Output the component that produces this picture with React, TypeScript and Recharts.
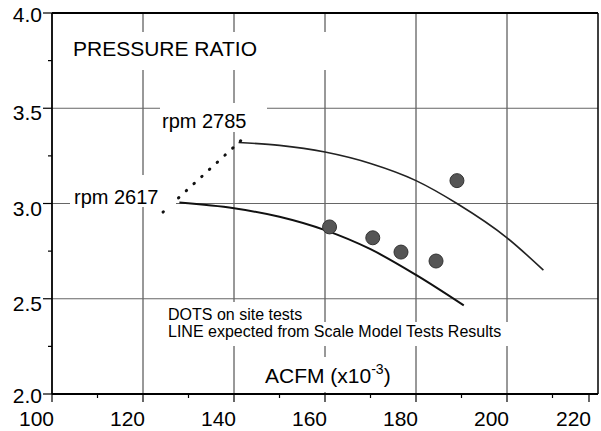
import React from 'react'
import {
  ComposedChart,
  Line,
  Scatter,
  XAxis,
  YAxis,
  ReferenceLine,
} from 'recharts'

// expected curves from scale model tests, one per speed
const upperAcfm = [141, 150, 160, 170, 180, 189, 200, 208]
const upperRatio = [3.32, 3.305, 3.27, 3.21, 3.12, 3.0, 2.82, 2.65]
const lowerAcfm = [128, 140, 150, 160, 170, 180, 190.5]
const lowerRatio = [3.005, 2.975, 2.93, 2.86, 2.76, 2.625, 2.465]

// dotted leader between the two speed labels
const leaderAcfm = [124.4, 143.1]
const leaderRatio = [2.955, 3.365]

// on site test points
const siteAcfm = [161, 170.5, 176.7, 184.4, 189]
const siteRatio = [2.877, 2.82, 2.745, 2.698, 3.12]

const xTicks = [100, 110, 120, 130, 140, 150, 160, 170, 180, 190, 200, 210, 220]
const yTicks = [2.0, 2.25, 2.5, 2.75, 3.0, 3.25, 3.5, 3.75, 4.0]
const xGrid = [120, 140, 160, 180, 200]
const yGrid = [2.5, 3.0, 3.5]

const zip = (xs: number[], ys: number[]) => xs.map((acfm, i) => ({ acfm, ratio: ys[i] }))

const upper = zip(upperAcfm, upperRatio)
const lower = zip(lowerAcfm, lowerRatio)
const leader = zip(leaderAcfm, leaderRatio)
const site = zip(siteAcfm, siteRatio)

const FONT = '"Liberation Sans", Arial, Helvetica, sans-serif'

const XTick = ({ x, y, payload }: any) => {
  const major = payload.value % 20 === 0
  return (
    <g>
      <line x1={x} x2={x} y1={y} y2={y + (major ? 8 : 4)} stroke="#000" strokeWidth={1.2} />
      {major && (
        <text x={x + 2} y={y + 32} textAnchor="end" fontSize={21} fontFamily={FONT} fill="#000">
          {payload.value}
        </text>
      )}
    </g>
  )
}

const YTick = ({ x, y, payload }: any) => {
  const major = Math.abs((payload.value * 2) % 1) < 1e-6
  const top = payload.value === 4
  const bottom = payload.value === 2
  return (
    <g>
      <line x1={x - (major ? 9 : 4)} x2={x} y1={y} y2={y} stroke="#000" strokeWidth={1.2} />
      {major && (
        <text
          x={x - 10}
          y={y + (top ? 9 : bottom ? 9 : 12)}
          textAnchor="end"
          fontSize={21}
          fontFamily={FONT}
          fill="#000"
        >
          {payload.value.toFixed(1)}
        </text>
      )}
    </g>
  )
}

const Dot = ({ cx, cy }: any) => <circle cx={cx} cy={cy} r={7} fill="#555" stroke="#333" strokeWidth={1} />

export default function App() {
  return (
    <div style={{ position: 'absolute', left: 0, top: 0, width: 601, height: 431, background: '#fff' }}>
      <ComposedChart width={601} height={431} margin={{ top: 13, right: 3, left: 0, bottom: 0 }}>
        <XAxis
          type="number"
          dataKey="acfm"
          domain={[100, 220]}
          ticks={xTicks}
          allowDataOverflow
          height={37}
          tickSize={0}
          tickMargin={0}
          tickLine={false}
          tick={XTick}
          axisLine={{ stroke: '#000', strokeWidth: 1.8 }}
        />
        <YAxis
          type="number"
          domain={[2, 4]}
          ticks={yTicks}
          allowDataOverflow
          width={52}
          tickSize={0}
          tickMargin={0}
          tickLine={false}
          tick={YTick}
          axisLine={{ stroke: '#000', strokeWidth: 1.8 }}
        />
        {xGrid.map((v) => (
          <ReferenceLine key={`x${v}`} x={v} stroke="#333" strokeWidth={1} />
        ))}
        {yGrid.map((v) => (
          <ReferenceLine key={`y${v}`} y={v} stroke="#666" strokeWidth={1} />
        ))}
        <ReferenceLine x={220} stroke="#000" strokeWidth={1.5} />
        <ReferenceLine y={4} stroke="#000" strokeWidth={1.8} />
        <Line
          data={upper}
          dataKey="ratio"
          type="monotone"
          stroke="#222"
          strokeWidth={1.6}
          dot={false}
          isAnimationActive={false}
        />
        <Line
          data={lower}
          dataKey="ratio"
          type="monotone"
          stroke="#111"
          strokeWidth={2}
          dot={false}
          isAnimationActive={false}
        />
        <Line
          data={leader}
          dataKey="ratio"
          type="linear"
          stroke="#111"
          strokeWidth={3}
          strokeDasharray="0.5 10"
          strokeLinecap="round"
          dot={false}
          isAnimationActive={false}
        />
        <Scatter data={site} dataKey="ratio" shape={Dot} isAnimationActive={false} />
      </ComposedChart>

      {/* labels sit on white boxes that break the grid, as in the original plot */}
      <svg
        width={601}
        height={431}
        style={{ position: 'absolute', left: 0, top: 0, pointerEvents: 'none' }}
        fontFamily={FONT}
      >
        <rect x={60} y={32} width={280} height={38} fill="#fff" />
        <text x={73} y={56} fontSize={21} fill="#000">PRESSURE RATIO</text>

        <rect x={160} y={103} width={107} height={29} fill="#fff" />
        <text x={162} y={128} fontSize={20} fill="#000">rpm 2785</text>

        <rect x={70} y={175} width={106} height={32} fill="#fff" />
        <text x={74} y={204} fontSize={20} fill="#000">rpm 2617</text>

        <rect x={160} y={302} width={160} height={22} fill="#fff" />
        <rect x={160} y={322} width={355} height={24} fill="#fff" />
        <text x={168} y={320} fontSize={16} fill="#000">DOTS on site tests</text>
        <text x={168} y={337} fontSize={16} fill="#000">LINE expected from Scale Model Tests Results</text>

        <rect x={255} y={357} width={145} height={35} fill="#fff" />
        <text x={265} y={383} fontSize={21} fill="#000">
          ACFM (x10
          <tspan dy={-9} fontSize={14}>-3</tspan>
          <tspan dy={9}>)</tspan>
        </text>
      </svg>
    </div>
  )
}
